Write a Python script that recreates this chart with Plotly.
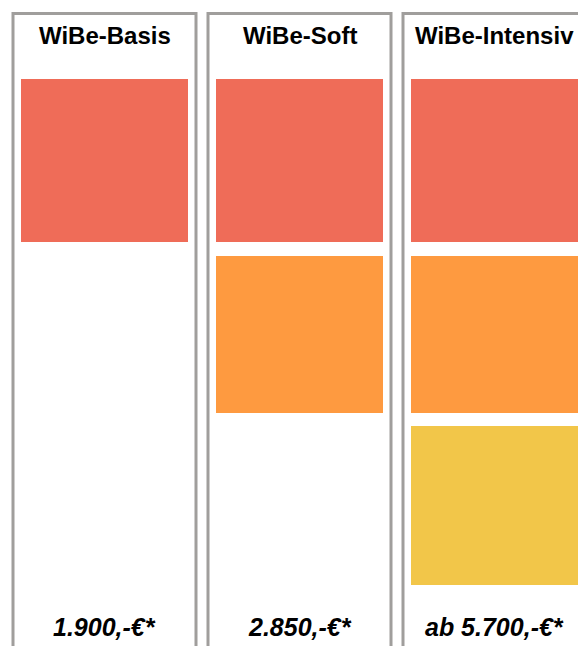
import plotly.graph_objects as go

# ---- data ----
packages = ["WiBe-Basis", "WiBe-Soft", "WiBe-Intensiv"]
prices = ["1.900,-€*", "2.850,-€*", "ab 5.700,-€*"]
modules = [1, 2, 3]          # number of module blocks contained in each package

# ---- style / layout constants ----
tier_colors = ["#EF6C58", "#FE9A40", "#F2C649"]
tier_top = [79, 256, 426]     # vertical placement of the module tiers (px-like units)
tier_height = [163, 157, 159]
border_color = "#A09E9C"
W, H = 578, 646
step = 195.0                  # px between column centres
first_center = 104.5
font = "Liberation Sans, Arial, Helvetica, sans-serif"

fig = go.Figure()

# column frames
fig.add_trace(go.Bar(
    x=packages, y=[H + 100] * len(packages), base=[13.5] * len(packages),
    width=183 / step,
    marker=dict(color="white", line=dict(color=border_color, width=3)),
    hoverinfo="skip", showlegend=False,
))

# module tiers
for t in range(3):
    ys = [tier_height[t] if m > t else None for m in modules]
    bs = [tier_top[t] if m > t else None for m in modules]
    fig.add_trace(go.Bar(
        x=packages, y=ys, base=bs, width=167 / step,
        marker=dict(color=tier_colors[t], line=dict(width=0)),
        hoverinfo="skip", showlegend=False,
    ))

for p, price in zip(packages, prices):
    fig.add_annotation(x=p, y=35, text=f"<b>{p}</b>", showarrow=False,
                       xanchor="center", yanchor="middle",
                       font=dict(family=font, size=24, color="#000"))
    fig.add_annotation(x=p, y=627, text=f"<b><i>{price}</i></b>", showarrow=False,
                       xanchor="center", yanchor="middle",
                       font=dict(family=font, size=25, color="#000"))

fig.update_layout(
    width=W, height=H, margin=dict(l=0, r=0, t=0, b=0),
    paper_bgcolor="white", plot_bgcolor="white",
    barmode="overlay",
    xaxis=dict(range=[-first_center / step, (W - first_center) / step],
               visible=False, fixedrange=True),
    yaxis=dict(range=[H, 0], visible=False, fixedrange=True),
)

fig.write_html("out.html", post_script="document.body.style.margin='0';document.body.style.overflow='hidden';",
               config={"displayModeBar": False})
